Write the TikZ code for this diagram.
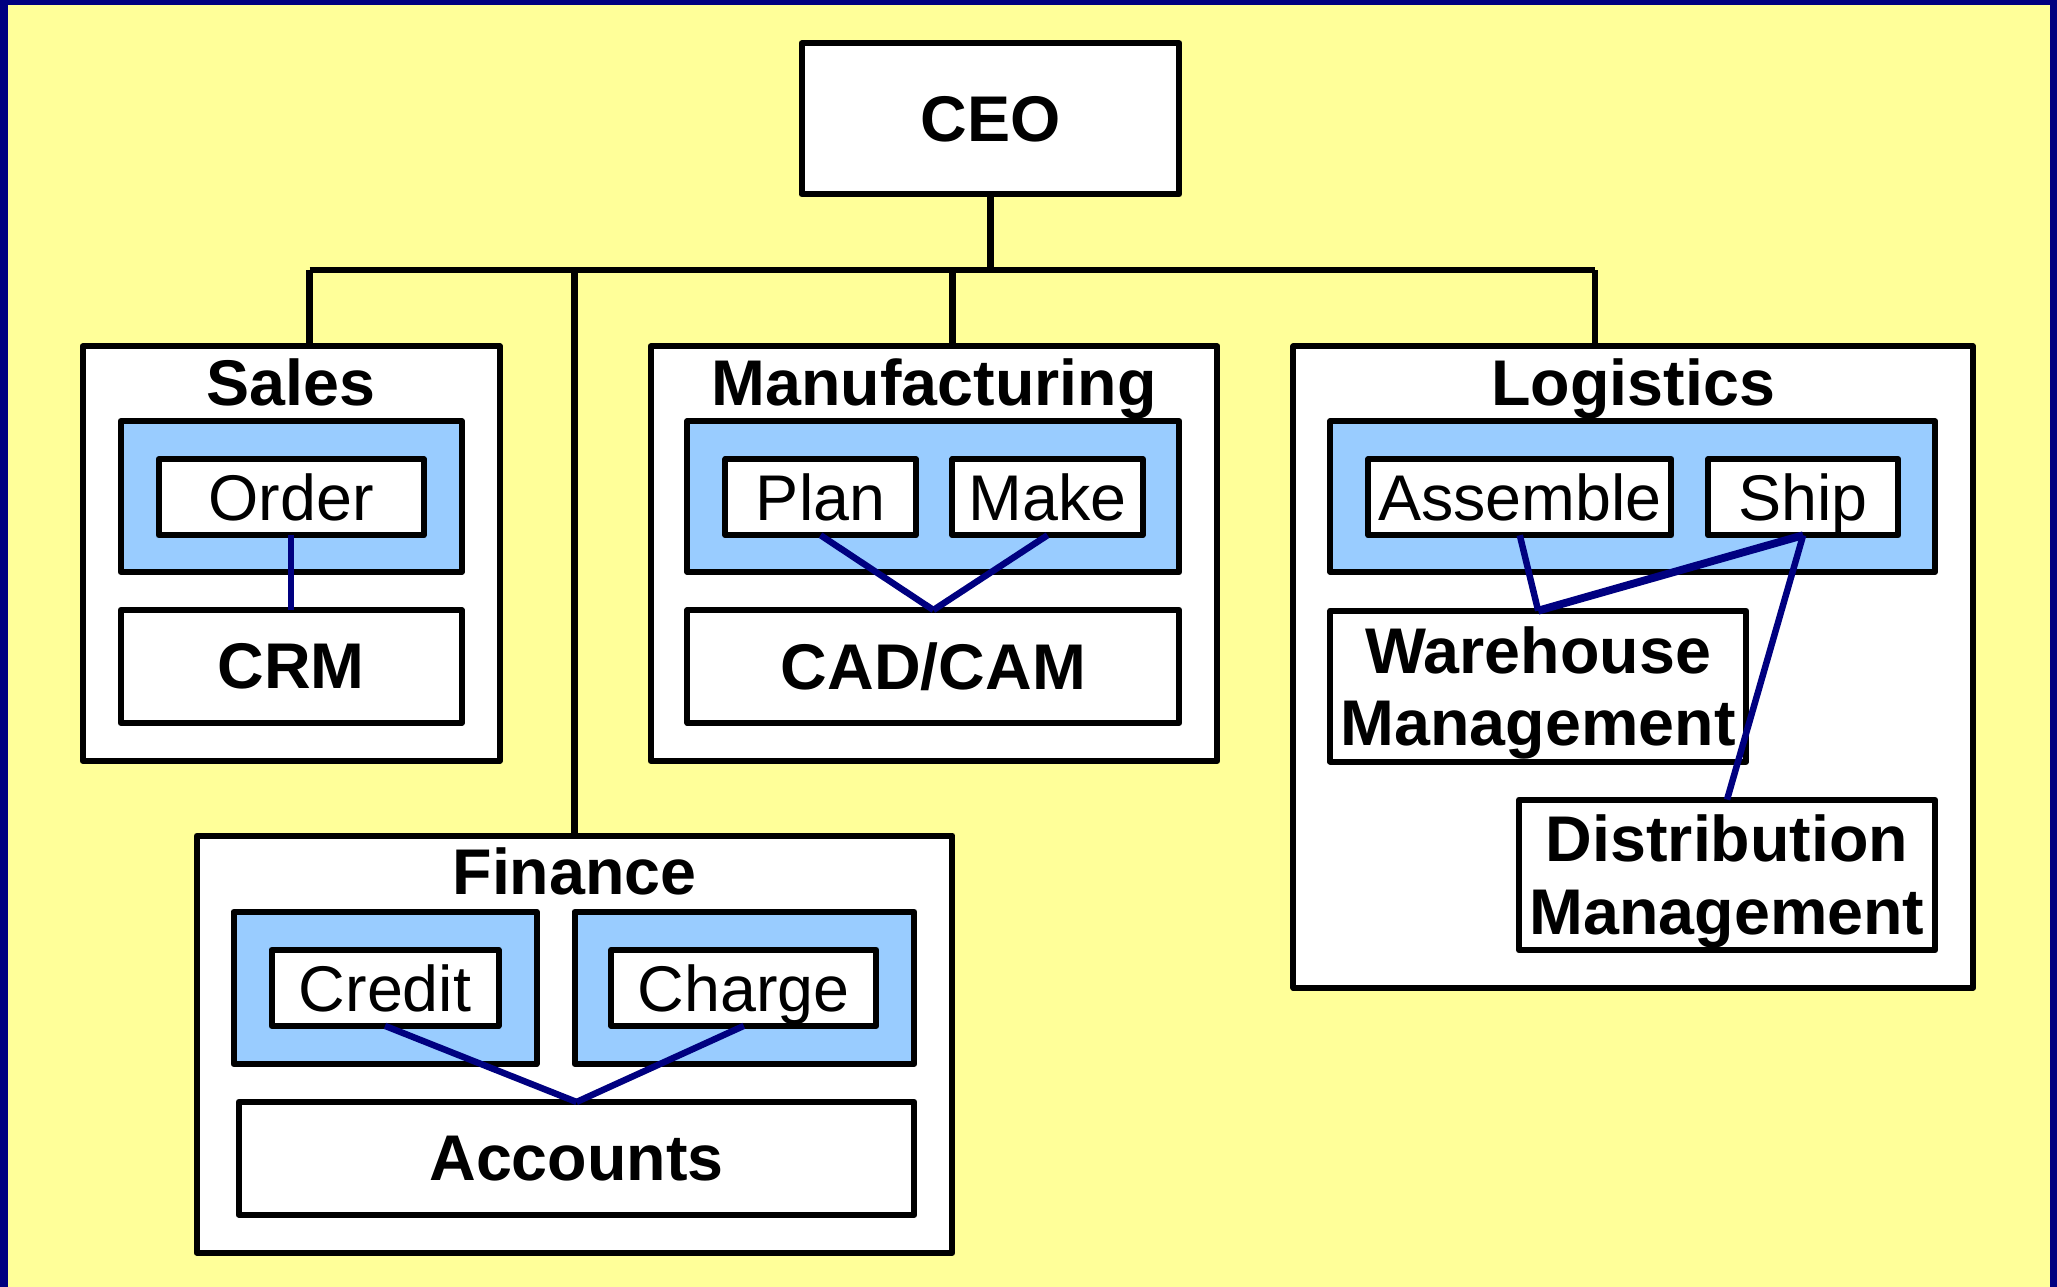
\documentclass[tikz,border=0pt]{standalone}
\usepackage{fontspec}
\setmainfont{Liberation Sans}
\definecolor{bgyellow}{HTML}{FFFF99}
\definecolor{navyb}{HTML}{000080}
\definecolor{lblue}{HTML}{99CCFF}
\begin{document}
\begin{tikzpicture}[x=0.01cm,y=-0.01cm,
  every node/.style={font=\fontsize{14}{15.8}\selectfont},
  sz/.style n args={2}{minimum width=#1*0.01cm, minimum height=#2*0.01cm},
  wbox/.style={draw=black, line width=1.3pt, fill=white, inner sep=0pt, outer sep=0pt, text depth=0pt, line join=round},
  bbox/.style={draw=black, line width=1.3pt, fill=lblue, inner sep=0pt, outer sep=0pt, line join=round},
  bold/.style={font=\fontsize{14}{15.8}\selectfont\bfseries},
  ttl/.style={anchor=base, inner sep=0pt, font=\fontsize{14}{15.8}\selectfont\bfseries},
  tree/.style={draw=black, line width=1.4pt},
  link/.style={draw=navyb, line width=1.4pt}]
% background
\useasboundingbox (0,0) rectangle (1568,981);
\fill[bgyellow] (0,0) rectangle (1568,981);
\fill[navyb] (0,0) rectangle (6,981);
\fill[navyb] (1563,0) rectangle (1568,981);
\fill[navyb] (0,0) rectangle (1568,4);

% CEO
\node[wbox, bold, sz={288}{115}] (ceo) at (755,90.5) {CEO};

% Sales
\node[wbox, sz={318}{316}] (sales) at (222,422) {};
\node[ttl] (salest) at (222,309) {Sales};
\node[bbox, sz={260}{115}] (salesb) at (222,378.5) {};
\node[wbox, sz={202}{58}] (order) at (222,379) {Order};
\node[wbox, bold, sz={260}{86}] (crm) at (222,508) {CRM};

% Manufacturing
\node[wbox, sz={432}{316}] (manu) at (712,422) {};
\node[ttl] (manut) at (712,309) {Manufacturing};
\node[bbox, sz={375}{115}] (manub) at (711.5,378.5) {};
\node[wbox, sz={145}{58}] (plan) at (625.5,379) {Plan};
\node[wbox, sz={145}{58}] (make) at (798.5,379) {Make};
\node[wbox, bold, sz={375}{86}] (cad) at (711.5,508) {CAD/CAM};

% Logistics
\node[wbox, sz={518}{489}] (logi) at (1245,508.5) {};
\node[ttl] (logit) at (1245,309) {Logistics};
\node[bbox, sz={461}{115}] (logib) at (1244.5,378.5) {};
\node[wbox, sz={231}{58}] (assemble) at (1158.5,379) {Assemble};
\node[wbox, sz={145}{58}] (ship) at (1374.5,379) {Ship};
\node[wbox, bold, align=center, sz={317}{115}] (wh) at (1172.5,523) {Warehouse\\Management};
\node[wbox, bold, align=center, sz={317}{115}] (dist) at (1316.5,667) {Distribution\\Management};

% Finance
\node[wbox, sz={576}{318}] (fin) at (438,796) {};
\node[ttl] (fint) at (438,682) {Finance};
\node[bbox, sz={231}{116}] (credb) at (293.5,753) {};
\node[bbox, sz={259}{116}] (charb) at (567.5,753) {};
\node[wbox, sz={173}{58}] (credit) at (293.5,753) {Credit};
\node[wbox, sz={202}{58}] (charge) at (567,753) {Charge};
\node[wbox, bold, sz={515}{86}] (accounts) at (439.5,883) {Accounts};

% tree
\coordinate (b1) at (236,206);
\coordinate (b2) at (438,206);
\coordinate (b3) at (726,206);
\coordinate (b4) at (1216,206);
\coordinate (bc) at (755,206);
\draw[tree] (b1) -- (b4);
\draw[tree] (ceo.south) -- (ceo.south |- bc);
\draw[tree] (b1) -- (b1 |- sales.north);
\draw[tree] (b2) -- (b2 |- fin.north);
\draw[tree] (b3) -- (b3 |- manu.north);
\draw[tree] (b4) -- (b4 |- logi.north);

% links
\draw[link] (order.south) -- (crm.north);
\draw[link] (plan.south) -- (cad.north);
\draw[link] (make.south) -- (cad.north);
\draw[link] (assemble.south) -- (wh.north);
\draw[link, line width=1.7pt] (ship.south) -- (wh.north);
\draw[link] (ship.south) -- (dist.north);
\draw[link] (credit.south) -- (accounts.north);
\draw[link] (charge.south) -- (accounts.north);
\end{tikzpicture}
\end{document}
